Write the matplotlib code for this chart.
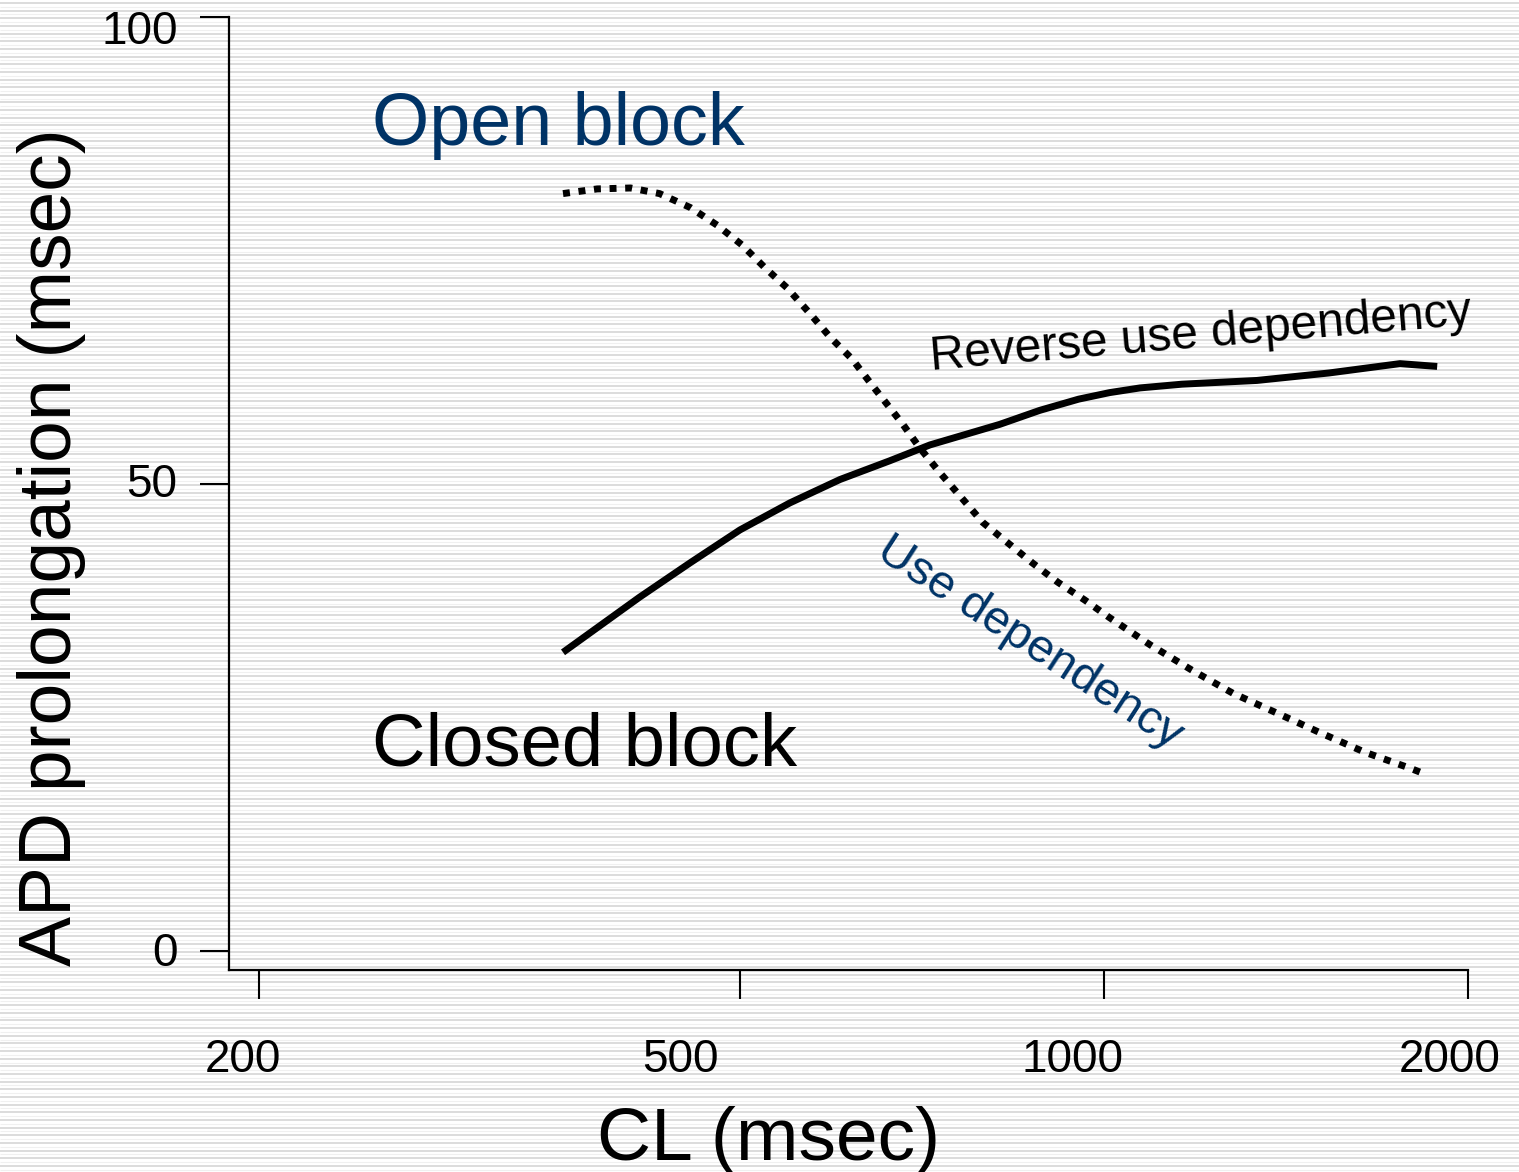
import numpy as np
import matplotlib
matplotlib.use("Agg")
import matplotlib.pyplot as plt
from matplotlib.ticker import NullLocator
from matplotlib.transforms import ScaledTranslation

# ---------------- data ----------------
x_ticks = [200, 500, 1000, 2000]
x_tick_labels = ["200", "500", "1000", "2000"]
y_ticks = [0, 50, 100]
y_tick_labels = ["0", "50", "100"]

# Reverse use dependency (closed block) - solid curve
solid_x = [357, 413, 455, 500, 550, 605, 665, 718, 820, 885, 953, 1011, 1071, 1160, 1338, 1535, 1757, 1886]
solid_y = [32.0, 37.9, 41.6, 45.1, 48.0, 50.5, 52.5, 54.2, 56.4, 57.9, 59.1, 59.8, 60.3, 60.7, 61.1, 61.9, 62.9, 62.6]

# Use dependency (open block) - dotted curve
dot_x = [357, 381, 406, 429, 455, 479, 502, 524, 547, 571, 594, 619, 643, 681, 704, 732,
         763, 794, 833, 872, 916, 964, 1011, 1092, 1182, 1279, 1390, 1509, 1644, 1791, 1832]
dot_y = [81.1, 81.6, 81.7, 81.1, 79.6, 77.7, 75.6, 73.2, 71.0, 68.3, 65.7, 63.4, 60.6, 56.5, 53.9, 51.2,
         48.5, 45.9, 43.7, 41.6, 39.5, 37.6, 35.7, 32.8, 30.1, 27.6, 25.5, 23.4, 21.3, 19.6, 19.1]

BLUE = "#003366"
plt.rcParams["font.family"] = ["Liberation Sans", "DejaVu Sans"]

W, H = 1519, 1172
fig = plt.figure(figsize=(W / 100, H / 100), dpi=100)
fig.patch.set_facecolor("white")

# striped background
bg = fig.add_axes([0, 0, 1, 1], zorder=-10)
bg.set_xlim(0, W)
bg.set_ylim(H, 0)
bg.axis("off")
stripes = np.arange(3, H, 7.65)
bg.hlines(stripes, 0, W, color="#dcdcdc", lw=1.4)
bg.hlines(stripes + 3.8, 0, W, color="#f0f0f0", lw=0.8)

# main axes
L, R, T, B = 229, 1468, 17, 970
ax = fig.add_axes([L / W, (H - B) / H, (R - L) / W, (B - T) / H])
ax.patch.set_alpha(0)
ax.set_xscale("log")
ax.set_xlim(189, 2000)
ax.set_ylim(-2, 100)
for s in ["top", "right"]:
    ax.spines[s].set_visible(False)
for s in ["left", "bottom"]:
    ax.spines[s].set_linewidth(1.6)

ax.set_xticks(x_ticks, labels=x_tick_labels)
ax.xaxis.set_minor_locator(NullLocator())
ax.set_yticks(y_ticks, labels=y_tick_labels)
ax.tick_params(axis="both", direction="out", length=21, width=1.5, labelsize=33, colors="black")
ax.tick_params(axis="x", pad=28)
ax.tick_params(axis="y", pad=16)
x_label_shift = [-16, -59, -31, -18]
for lab, dx in zip(ax.get_xticklabels(), x_label_shift):
    lab.set_transform(lab.get_transform() + ScaledTranslation(dx / 100, 0, fig.dpi_scale_trans))
y_label_shift = [2, 4, -10]
for lab, dy in zip(ax.get_yticklabels(), y_label_shift):
    lab.set_transform(lab.get_transform() + ScaledTranslation(0, dy / 100, fig.dpi_scale_trans))

ax.plot(solid_x, solid_y, color="black", lw=5, solid_capstyle="butt", solid_joinstyle="round")
ax.plot(dot_x, dot_y, color="black", lw=5, linestyle=(0, (1, 1.25)), dash_capstyle="butt")

ax.text(248, 86.3, "Open block", color=BLUE, fontsize=53, ha="left", va="baseline")
ax.text(248, 19.9, "Closed block", color="black", fontsize=53.5, ha="left", va="baseline")
ax.text(720, 62.2, "Reverse use dependency", color="black", fontsize=34.5, rotation=4.8,
        rotation_mode="anchor", ha="left", va="baseline")
ax.text(646, 42.2, "Use dependency", color=BLUE, fontsize=34, rotation=-33,
        rotation_mode="anchor", ha="left", va="baseline")

ax.set_xlabel("CL (msec)", fontsize=54, va="baseline")
ax.xaxis.set_label_coords((769 - L) / (R - L), (B - 1160) / (B - T))
ax.set_ylabel("APD prolongation (msec)", fontsize=54, va="baseline", rotation_mode="anchor")
ax.yaxis.set_label_coords((71 - L) / (R - L), (B - 547) / (B - T))

fig.savefig("out.png", dpi=100, facecolor="white")
